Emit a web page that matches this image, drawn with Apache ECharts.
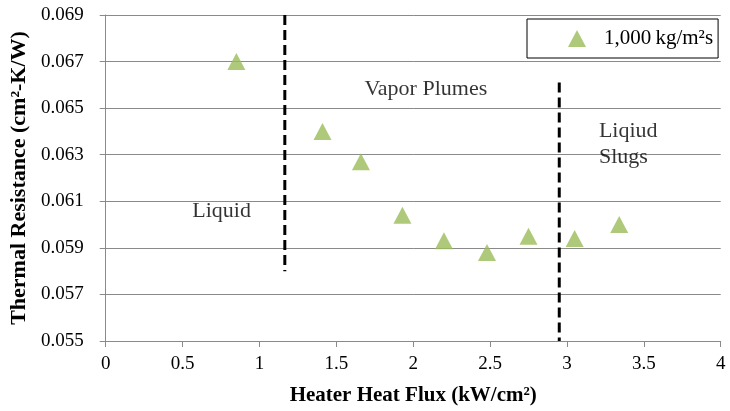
<!DOCTYPE html>
<html>
<head>
<meta charset="utf-8">
<script src="https://cdn.jsdelivr.net/npm/echarts@6/dist/echarts.min.js"></script>
<style>
html,body{margin:0;padding:0;background:#fff;}
#chart{width:730px;height:411px;}
</style>
</head>
<body>
<div id="chart"></div>
<script>
// ---- data ----
const seriesName = '1,000\u2009kg/m\u00b2s';
const heatFlux = [0.85, 1.41, 1.66, 1.93, 2.20, 2.48, 2.75, 3.05, 3.34];
const thermalResistance = [0.0670, 0.0640, 0.0627, 0.0604, 0.0593, 0.0588, 0.0595, 0.0594, 0.0600];
const boundaryLiquidVapor = [[1.165, 0.069], [1.165, 0.058]];
const boundaryVaporSlugs = [[2.95, 0.0661], [2.95, 0.055]];
const regionLabels = ['Liquid', 'Vapor Plumes', 'Liqiud\nSlugs'];
const regionLabelX = [0.754, 2.082, 3.208];
const regionLabelY = [0.06058, 0.06583, 0.06346];
const xTitle = 'Heater Heat Flux (kW/cm\u00b2)';
const yTitle = 'Thermal Resistance (cm\u00b2-K/W)';

const FONT = 'Liberation Serif';
const GRID = '#8a8a8a';

const points = heatFlux.map((x, i) => [x, thermalResistance[i]]);
const labelPoints = regionLabels.map((n, i) => ({
  name: n,
  value: [regionLabelX[i], regionLabelY[i]],
  label: i === 2 ? { align: 'left' } : { align: 'center' }
}));

const chart = echarts.init(document.getElementById('chart'), null, { renderer: 'canvas' });
chart.setOption({
  backgroundColor: '#fff',
  animation: false,
  grid: { left: 105.7, right: 9.3, top: 15, bottom: 69 },
  legend: {
    data: [{ name: seriesName, icon: 'triangle' }],
    left: 527, top: 19,
    padding: [9, 5, 9, 41],
    itemWidth: 18, itemHeight: 17,
    borderColor: '#000', borderWidth: 1,
    backgroundColor: '#fff',
    selectedMode: false,
    textStyle: { fontFamily: FONT, fontSize: 21, color: '#000', padding: [0, 0, 0, 13] }
  },
  xAxis: {
    type: 'value', min: 0, max: 4, interval: 0.5,
    name: xTitle, nameLocation: 'middle', nameGap: 44,
    nameTextStyle: { fontFamily: FONT, fontSize: 21, fontWeight: 'bold', color: '#000' },
    axisLine: { show: true, lineStyle: { color: GRID, width: 1 } },
    axisTick: { show: true, inside: false, length: 6, lineStyle: { color: GRID } },
    axisLabel: { fontFamily: FONT, fontSize: 19, color: '#000', margin: 14 },
    splitLine: { show: false }
  },
  yAxis: {
    type: 'value', min: 0.055, max: 0.069, interval: 0.002,
    name: yTitle, nameLocation: 'middle', nameGap: 70, nameRotate: 90,
    nameTextStyle: { fontFamily: FONT, fontSize: 22, fontWeight: 'bold', color: '#000' },
    axisLine: { show: true, lineStyle: { color: GRID, width: 1 } },
    axisTick: { show: true, inside: false, length: 6, lineStyle: { color: GRID } },
    axisLabel: { fontFamily: FONT, fontSize: 19, color: '#000', margin: 22,
      formatter: v => v.toFixed(3) },
    splitLine: { show: true, lineStyle: { color: GRID, width: 1 } }
  },
  series: [
    {
      name: seriesName, type: 'scatter', data: points,
      symbol: 'triangle', symbolSize: [18, 17],
      itemStyle: { color: '#9BBB59' }, z: 5
    },
    {
      name: 'b1', type: 'line', data: boundaryLiquidVapor, symbol: 'none',
      lineStyle: { color: '#000', width: 3, type: [10, 5] }, z: 4, silent: true
    },
    {
      name: 'b2', type: 'line', data: boundaryVaporSlugs, symbol: 'none',
      lineStyle: { color: '#000', width: 3, type: [10, 5] }, z: 4, silent: true
    },
    {
      name: 'labels', type: 'scatter', data: labelPoints, symbolSize: 0,
      silent: true, z: 6,
      label: {
        show: true, position: 'inside', formatter: p => p.name,
        fontFamily: FONT, fontSize: 22, color: '#000', lineHeight: 26,
        verticalAlign: 'middle'
      }
    }
  ]
});
</script>
</body>
</html>
